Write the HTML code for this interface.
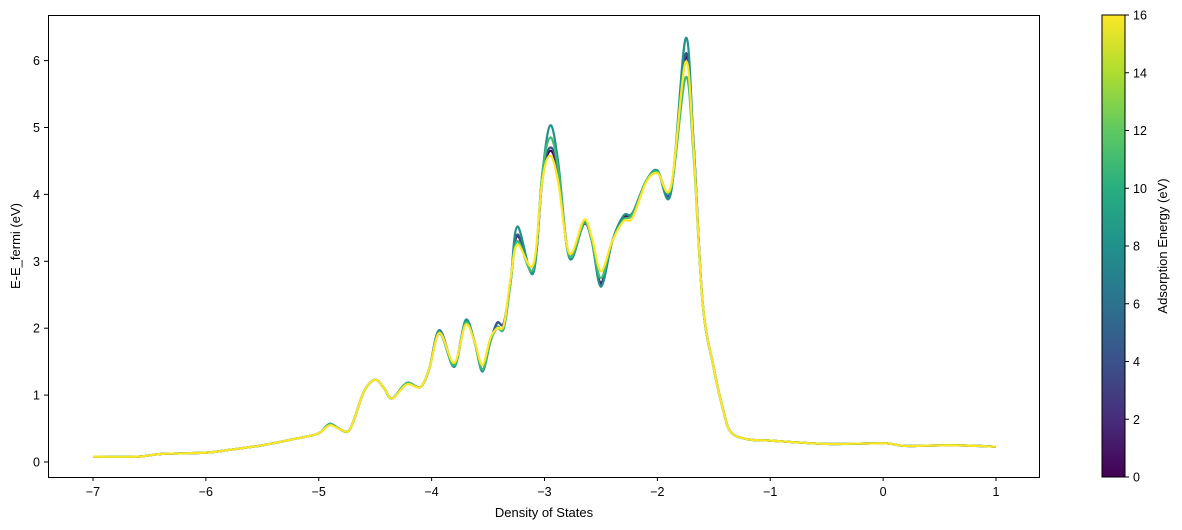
<!DOCTYPE html>
<html><head><meta charset="utf-8">
<style>
body{margin:0;background:#fff;}
svg{display:block;font-family:"Liberation Sans",sans-serif;}
</style></head>
<body>
<svg id="chart" width="1182" height="530" xmlns="http://www.w3.org/2000/svg">
<defs>
<linearGradient id="vir" x1="0" y1="1" x2="0" y2="0">
<stop offset="0" stop-color="#440154"/><stop offset="0.125" stop-color="#472d7b"/>
<stop offset="0.25" stop-color="#3b528b"/><stop offset="0.375" stop-color="#2c728e"/>
<stop offset="0.5" stop-color="#21918c"/><stop offset="0.625" stop-color="#28ae80"/>
<stop offset="0.75" stop-color="#5ec962"/><stop offset="0.875" stop-color="#addc30"/>
<stop offset="1" stop-color="#fde725"/>
</linearGradient>
</defs>
<g id="plot"></g>
<rect x="48.5" y="15.5" width="991" height="462" fill="none" stroke="#000" stroke-width="1"/>
<g id="xt"></g>
<g id="yt"></g>
<text x="544" y="517" font-size="13" text-anchor="middle">Density of States</text>
<text x="20" y="246" font-size="13" text-anchor="middle" transform="rotate(-90 20 246)">E-E_fermi (eV)</text>
<rect x="1102" y="15" width="23" height="462" fill="url(#vir)" stroke="#000" stroke-width="1"/>
<g id="ct"></g>
<text x="1167" y="246" font-size="13" text-anchor="middle" transform="rotate(-90 1167 246)">Adsorption Energy (eV)</text>
</svg>
<script>
const xs=[-7,-6.6,-6.4,-6.0,-5.8,-5.5,-5.2,-5.05,-4.98,-4.9,-4.8,-4.72,-4.6,-4.5,-4.42,-4.35,-4.22,-4.1,-4.02,-3.93,-3.8,-3.7,-3.62,-3.55,-3.48,-3.42,-3.36,-3.3,-3.24,-3.1,-3.02,-2.95,-2.88,-2.78,-2.65,-2.58,-2.5,-2.4,-2.3,-2.22,-2.1,-2.0,-1.88,-1.75,-1.68,-1.6,-1.5,-1.42,-1.35,-1.2,-1.0,-0.5,0,0.2,0.6,1.0];
const energies=[0,4,8,11,16];
const sE0=[0.08,0.08,0.12,0.14,0.18,0.25,0.35,0.40,0.45,0.57,0.48,0.50,1.05,1.23,1.10,0.95,1.18,1.12,1.40,1.97,1.45,2.10,1.80,1.38,1.80,2.08,2.08,2.7,3.38,2.85,4.2,4.65,4.3,3.08,3.56,3.3,2.68,3.3,3.65,3.72,4.2,4.34,4.05,6.05,4.75,2.4,1.4,0.8,0.45,0.34,0.32,0.27,0.28,0.24,0.25,0.23];
const sE4=[0.08,0.08,0.12,0.14,0.18,0.25,0.35,0.40,0.45,0.57,0.48,0.50,1.05,1.23,1.10,0.95,1.18,1.12,1.40,1.97,1.45,2.10,1.80,1.38,1.80,2.08,2.08,2.7,3.40,2.85,4.25,4.70,4.35,3.08,3.56,3.3,2.65,3.3,3.68,3.72,4.2,4.35,4.05,6.10,4.78,2.4,1.4,0.8,0.45,0.34,0.32,0.27,0.28,0.24,0.25,0.23];
const sE8=[0.08,0.08,0.12,0.14,0.18,0.25,0.35,0.40,0.45,0.57,0.48,0.50,1.05,1.23,1.10,0.95,1.18,1.12,1.40,1.97,1.42,2.12,1.80,1.35,1.80,2.02,2.0,2.7,3.52,2.82,4.3,5.03,4.5,3.05,3.58,3.3,2.62,3.3,3.68,3.72,4.2,4.36,4.02,6.33,4.8,2.4,1.4,0.8,0.45,0.34,0.32,0.27,0.28,0.24,0.25,0.23];
const sE11=[0.08,0.08,0.12,0.14,0.18,0.25,0.35,0.40,0.45,0.57,0.48,0.50,1.05,1.23,1.10,0.95,1.18,1.12,1.40,1.92,1.44,2.08,1.80,1.38,1.80,2.0,2.0,2.7,3.30,2.88,4.3,4.85,4.4,3.08,3.58,3.3,2.75,3.3,3.62,3.70,4.2,4.34,4.08,5.75,4.6,2.4,1.4,0.8,0.45,0.34,0.32,0.27,0.28,0.24,0.25,0.23];
const sE16=[0.08,0.08,0.12,0.14,0.18,0.25,0.35,0.40,0.45,0.55,0.48,0.50,1.05,1.23,1.10,0.95,1.16,1.12,1.40,1.93,1.48,2.05,1.80,1.45,1.85,2.0,2.05,2.75,3.25,2.95,4.2,4.58,4.2,3.12,3.62,3.35,2.85,3.3,3.60,3.65,4.18,4.32,4.12,5.98,4.7,2.4,1.4,0.8,0.45,0.34,0.32,0.27,0.28,0.24,0.25,0.23];
const series=[sE0,sE4,sE8,sE11,sE16];
const colors=["#440154","#3b528b","#21918c","#3fbc73","#fde725"];
const xTicks=[-7,-6,-5,-4,-3,-2,-1,0,1];
const yTicks=[0,1,2,3,4,5,6];
const cTicks=[0,2,4,6,8,10,12,14,16];

const NS="http://www.w3.org/2000/svg";
const X=v=>93+(v+7)*112.875;
const Y=v=>462-v*66.9;
const C=v=>477-v*(462/16);
function mk(tag,attrs,parent){const e=document.createElementNS(NS,tag);for(const k in attrs)e.setAttribute(k,attrs[k]);parent.appendChild(e);return e;}
function pathFor(ys){
  const p=xs.map((x,i)=>[X(x),Y(ys[i])]);
  let d="M"+p[0][0]+","+p[0][1];
  for(let i=0;i<p.length-1;i++){
    const p0=p[Math.max(0,i-1)],p1=p[i],p2=p[i+1],p3=p[Math.min(p.length-1,i+2)];
    const c1x=p1[0]+(p2[0]-p0[0])/6,c1y=p1[1]+(p2[1]-p0[1])/6;
    const c2x=p2[0]-(p3[0]-p1[0])/6,c2y=p2[1]-(p3[1]-p1[1])/6;
    d+=` C${c1x},${c1y} ${c2x},${c2y} ${p2[0]},${p2[1]}`;
  }
  return d;
}
const plot=document.getElementById('plot');
series.forEach((s,i)=>{
  const el=mk('path',{d:pathFor(s),fill:'none',stroke:colors[i],'stroke-width':2.2,'stroke-linejoin':'round'},plot);
  
  
});
const xt=document.getElementById('xt');
xTicks.forEach(t=>{
  const l=mk('line',{x1:X(t),x2:X(t),y1:477,y2:481,stroke:'#000'},xt);
  
  
  const tx=mk('text',{x:X(t),y:496,'font-size':12.5,'text-anchor':'middle'},xt);
  tx.textContent=(t<0?'\u2212'+(-t):t);
  
  
});
const yt=document.getElementById('yt');
yTicks.forEach(t=>{
  const l=mk('line',{x1:44,x2:48.5,y1:Y(t),y2:Y(t),stroke:'#000'},yt);
  
  
  const tx=mk('text',{x:40,y:Y(t)+4.5,'font-size':12.5,'text-anchor':'end'},yt);
  tx.textContent=t;
  
  
});
const ct=document.getElementById('ct');
cTicks.forEach(t=>{
  const l=mk('line',{x1:1125,x2:1129,y1:C(t),y2:C(t),stroke:'#000'},ct);
  
  
  const tx=mk('text',{x:1133,y:C(t)+4.5,'font-size':12.5},ct);
  tx.textContent=t;
  
  
});
</script>
</body></html>
